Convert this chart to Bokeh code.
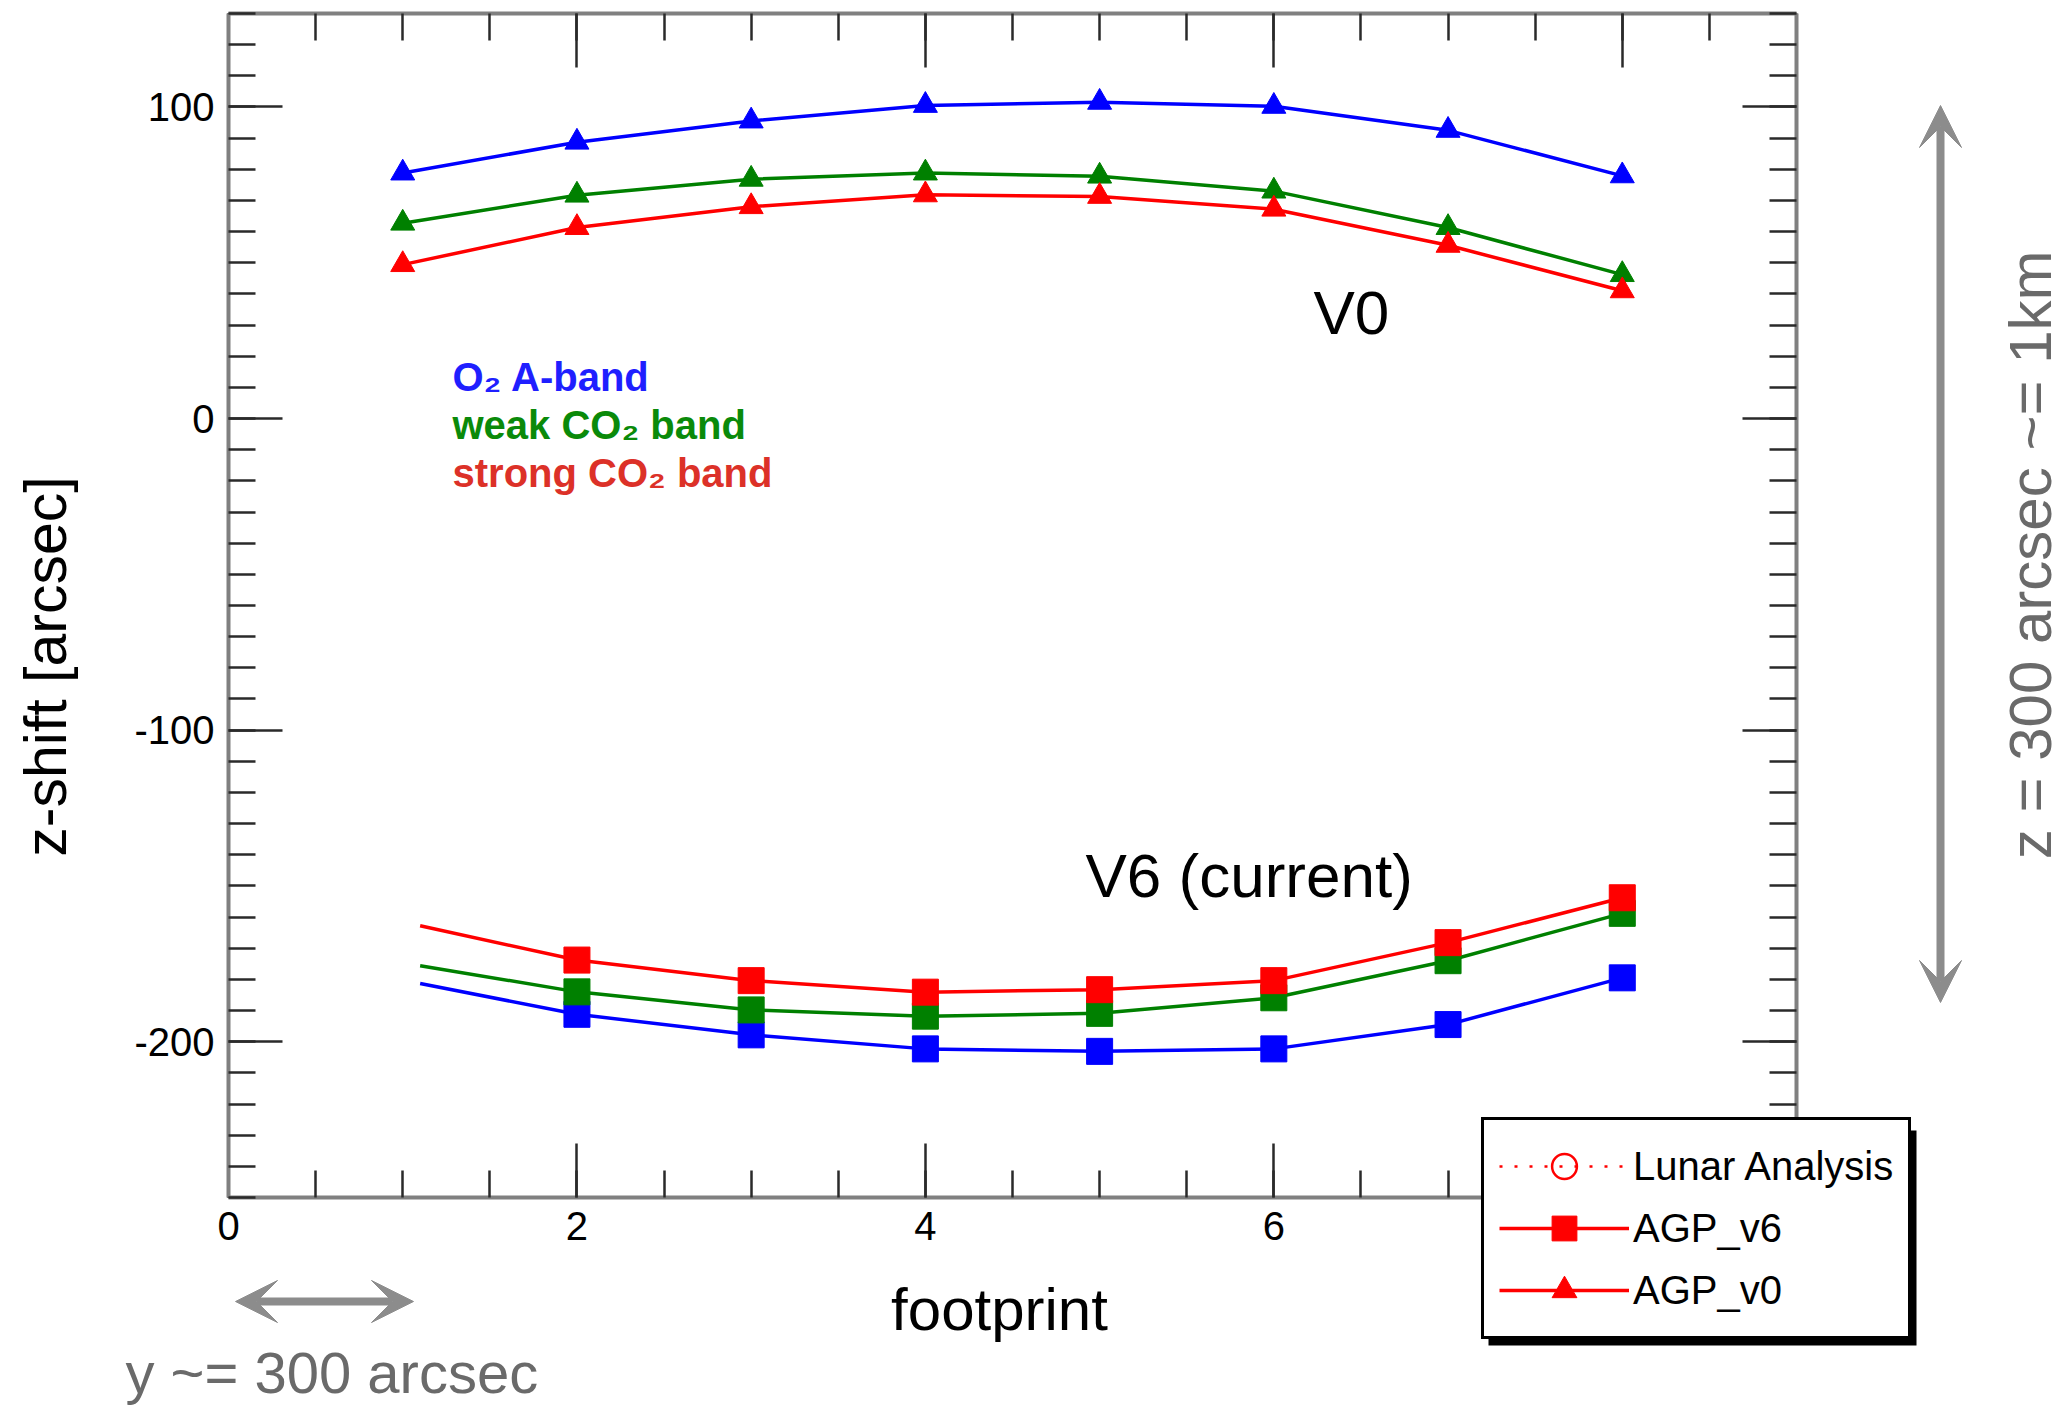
from math import pi

from bokeh.embed import file_html
from bokeh.models import (Arrow, BoxAnnotation, CustomJSTickFormatter, FixedTicker,
                          Label, Legend, LegendItem, LinearAxis, Range1d, VeeHead)
from bokeh.plotting import figure
from bokeh.resources import INLINE

# ---- data -------------------------------------------------------------
footprint = [1, 2, 3, 4, 5, 6, 7, 8]

# AGP v0 z-shift per footprint [arcsec]
v0_o2_aband = [78.8, 88.7, 95.5, 100.5, 101.5, 100.2, 92.5, 77.9]
v0_weak_co2 = [62.7, 71.7, 76.8, 78.8, 77.8, 73.0, 61.3, 46.2]
v0_strong_co2 = [49.4, 61.3, 68.0, 71.8, 71.3, 67.2, 55.6, 41.0]

# AGP v6 z-shift per footprint [arcsec]; the first sample carries no symbol
v6_footprint = [1.1, 2, 3, 4, 5, 6, 7, 8]
v6_o2_aband = [-181.3, -191.2, -197.8, -202.3, -203.1, -202.3, -194.5, -179.5]
v6_weak_co2 = [-175.6, -184.0, -189.8, -191.8, -190.9, -185.9, -174.0, -158.8]
v6_strong_co2 = [-162.8, -173.8, -180.4, -184.1, -183.3, -180.4, -168.2, -153.8]

# lunar analysis: no values in this plot, only its legend entry
lunar_footprint = [float("nan")]
lunar_zshift = [float("nan")]

x_major = [0, 2, 4, 6, 8]
x_minor = [i * 0.5 for i in range(0, 19)]
y_major = [-200, -100, 0, 100]
y_minor = list(range(-250, 131, 10))

# ---- layout -----------------------------------------------------------
W, H = 2067, 1410
# pixel box of the axes inside the page
BL, BR, BT, BB = 228, 1796, 13, 1197
X0, X1 = 0, 9
Y0, Y1 = -250, 130


def dx(px):
    return X0 + (px - BL) / (BR - BL) * (X1 - X0)


def dy(py):
    return Y1 - (py - BT) / (BB - BT) * (Y1 - Y0)


FONT = "'Liberation Sans', Arial, sans-serif"
BLUE, GREEN, RED = "#0000ff", "#008000", "#ff0000"
GREY = "#8c8c8c"
GREY_TEXT = "#6a6a6a"

# the drawing frame fills the page; the axes sit on the box edges
p = figure(width=W, height=H,
           x_range=Range1d(dx(0), dx(W)), y_range=Range1d(dy(H), dy(0)),
           output_backend="svg", toolbar_location=None,
           min_border_left=0, min_border_right=0,
           min_border_top=0, min_border_bottom=0,
           background_fill_color="white", border_fill_color="white",
           outline_line_color=None)
p.xgrid.visible = False
p.ygrid.visible = False

p.add_layout(LinearAxis(), "right")
p.add_layout(LinearAxis(), "above")


def style_axis(ax, major, minor, bounds, where, labelled):
    ax.ticker = FixedTicker(ticks=major, minor_ticks=minor)
    ax.bounds = bounds
    ax.fixed_location = where
    ax.axis_line_color = "#808080"
    ax.axis_line_width = 4
    ax.major_tick_in = 54
    ax.major_tick_out = 0
    ax.minor_tick_in = 27
    ax.minor_tick_out = 0
    ax.major_tick_line_color = "#2a2a2a"
    ax.major_tick_line_width = 2.5
    ax.minor_tick_line_color = "#2a2a2a"
    ax.minor_tick_line_width = 2.5
    if labelled:
        ax.formatter = CustomJSTickFormatter(code="return tick.toFixed(0)")
        ax.major_label_text_font = FONT
        ax.major_label_text_font_size = "40px"
        ax.major_label_text_color = "black"
        ax.major_label_standoff = 14
    else:
        ax.formatter = CustomJSTickFormatter(code="return ''")
        ax.major_label_text_font_size = "1px"
        ax.major_label_standoff = 0


style_axis(p.below[0], x_major, x_minor, (X0, X1), Y0, True)
style_axis(p.above[0], x_major, x_minor, (X0, X1), Y1, False)
style_axis(p.left[0], y_major, y_minor, (Y0, Y1), X0, True)
style_axis(p.right[0], y_major, y_minor, (Y0, Y1), X1, False)

# ---- series -----------------------------------------------------------
series = [
    (v0_o2_aband, v6_o2_aband, BLUE),
    (v0_weak_co2, v6_weak_co2, GREEN),
    (v0_strong_co2, v6_strong_co2, RED),
]
legend_renderers = {}
for v0, v6, col in series:
    l0 = p.line(footprint, v0, line_color=col, line_width=3.5)
    m0 = p.scatter(footprint, v0, marker="triangle", size=24,
                   fill_color=col, line_color=col)
    l6 = p.line(v6_footprint, v6, line_color=col, line_width=3.5)
    m6 = p.scatter(v6_footprint[1:], v6[1:], marker="square", size=26,
                   fill_color=col, line_color=col)
    if col == RED:
        legend_renderers["v0"] = [l0, m0]
        legend_renderers["v6"] = [l6, m6]

lunar_line = p.line(lunar_footprint, lunar_zshift, line_color=RED,
                    line_width=2.5, line_dash="3 12")
lunar_pts = p.scatter(lunar_footprint, lunar_zshift, marker="circle", size=24,
                      fill_color=None, line_color=RED, line_width=2.5)

# ---- legend -----------------------------------------------------------
shadow = BoxAnnotation(left=dx(1488), right=dx(1916), top=dy(1130), bottom=dy(1345),
                       fill_color="black", fill_alpha=1, line_color=None)
p.add_layout(shadow)

legend = Legend(
    items=[
        LegendItem(label="Lunar Analysis", renderers=[lunar_line, lunar_pts]),
        LegendItem(label="AGP_v6", renderers=legend_renderers["v6"]),
        LegendItem(label="AGP_v0", renderers=legend_renderers["v0"]),
    ],
    location=(1481, H - 1339), orientation="vertical",
    glyph_width=130, glyph_height=62, label_height=62, label_standoff=4,
    spacing=0, padding=15, margin=0,
    border_line_color="black", border_line_width=3, border_line_alpha=1,
    background_fill_color="white", background_fill_alpha=1,
    label_text_font=FONT, label_text_font_size="40px", label_text_color="black",
)
p.add_layout(legend, "center")

# ---- axis titles and notes --------------------------------------------
p.add_layout(Label(x=dx(45), y=dy(666), text="z-shift [arcsec]", angle=pi / 2,
                   text_align="center", text_baseline="middle",
                   text_font=FONT, text_font_size="59px", text_color="black"))
p.add_layout(Label(x=dx(999), y=dy(1309), text="footprint",
                   text_align="center", text_baseline="middle",
                   text_font=FONT, text_font_size="60px", text_color="black"))

p.add_layout(Label(x=dx(1313), y=dy(312), text="V0", text_font=FONT,
                   text_font_size="62px", text_color="black",
                   text_baseline="middle"))
p.add_layout(Label(x=dx(1085), y=dy(875), text="V6 (current)", text_font=FONT,
                   text_font_size="62px", text_color="black",
                   text_baseline="middle"))

band_labels = [("O\u2082 A-band", "#1f1fff", 376),
               ("weak CO\u2082 band", "#0a8a0a", 424),
               ("strong CO\u2082 band", "#dc3128", 472)]
for txt, col, mid in band_labels:
    p.add_layout(Label(x=dx(452), y=dy(mid), text=txt, text_font=FONT,
                       text_font_size="40px", text_font_style="bold",
                       text_color=col, text_baseline="middle"))

# scale arrows
p.add_layout(Arrow(start=VeeHead(size=42, fill_color=GREY, line_color=GREY),
                   end=VeeHead(size=42, fill_color=GREY, line_color=GREY),
                   x_start=dx(1940), y_start=dy(1002), x_end=dx(1940), y_end=dy(105),
                   line_color=GREY, line_width=8))
p.add_layout(Arrow(start=VeeHead(size=42, fill_color=GREY, line_color=GREY),
                   end=VeeHead(size=42, fill_color=GREY, line_color=GREY),
                   x_start=dx(235), y_start=dy(1301), x_end=dx(413), y_end=dy(1301),
                   line_color=GREY, line_width=8))

p.add_layout(Label(x=dx(2030), y=dy(546), text="z = 300 arcsec  ~= 1km",
                   angle=pi / 2, text_align="center", text_baseline="middle",
                   text_font=FONT, text_font_size="60px", text_color=GREY_TEXT))
p.add_layout(Label(x=dx(125), y=dy(1372), text="y ~= 300 arcsec",
                   text_font=FONT, text_font_size="58px", text_color=GREY_TEXT,
                   text_baseline="middle"))

open("out.html", "w").write(file_html(p, INLINE))
